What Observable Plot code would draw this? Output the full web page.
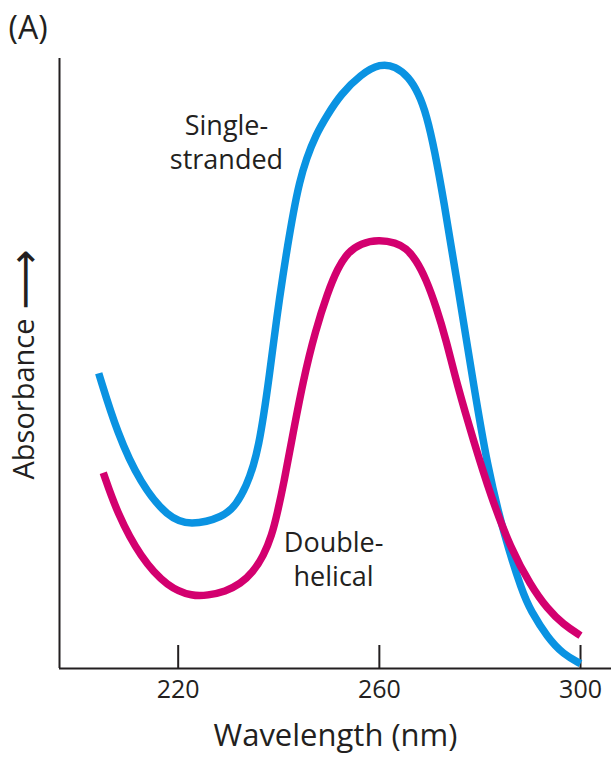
<!DOCTYPE html>
<html>
<head>
<meta charset="utf-8">
<script src="https://cdn.jsdelivr.net/npm/d3@7"></script>
<script src="https://cdn.jsdelivr.net/npm/@observablehq/plot@0.6"></script>
<style>
  html, body { margin: 0; padding: 0; background: #ffffff; }
</style>
</head>
<body>
<div id="chart"></div>
<script>
// ---- Data ----
const seriesNames = ["Single-stranded", "Double-helical"];
const seriesColors = ["#0a93e2", "#d3006f"];

const ssWavelength = [204.2, 207.9, 212.5, 217.9, 222.4, 229.0, 231.6, 233.6, 235.0, 236.0, 237.0, 238.0, 239.7, 240.9, 241.7, 242.9, 244.1, 245.5, 247.3, 249.7, 252.3, 256.3, 260.2, 263.2, 265.8, 267.8, 269.4, 271.0, 272.8, 275.1, 278.7, 281.5, 284.7, 288.5, 290.1, 293.4, 296.6, 300.0];
const ssAbsorbance = [0.484, 0.385, 0.303, 0.248, 0.234, 0.248, 0.269, 0.300, 0.333, 0.366, 0.415, 0.472, 0.582, 0.648, 0.690, 0.748, 0.797, 0.836, 0.874, 0.908, 0.941, 0.974, 0.992, 0.987, 0.970, 0.943, 0.907, 0.849, 0.767, 0.652, 0.467, 0.330, 0.221, 0.123, 0.095, 0.051, 0.023, 0.008];

const dhWavelength = [205.1, 207.9, 212.5, 217.9, 223.0, 225.8, 229.4, 232.4, 234.8, 237.0, 238.6, 239.7, 241.1, 242.3, 244.9, 247.3, 249.7, 251.7, 253.7, 256.3, 259.9, 263.3, 265.3, 267.3, 269.3, 271.3, 273.3, 275.5, 278.7, 282.1, 286.1, 290.1, 293.4, 296.6, 300.0];
const dhAbsorbance = [0.321, 0.254, 0.182, 0.133, 0.118, 0.120, 0.126, 0.139, 0.157, 0.185, 0.218, 0.254, 0.308, 0.362, 0.475, 0.554, 0.616, 0.656, 0.682, 0.697, 0.703, 0.698, 0.689, 0.670, 0.638, 0.593, 0.538, 0.464, 0.374, 0.284, 0.197, 0.136, 0.098, 0.072, 0.054];

const xTicks = [220, 260, 300];
const xDomain = [196.4, 306.16];
const yDomain = [0, 1];

const curveLabels = ["Single-\nstranded", "Double-\nhelical"];
const curveLabelX = [229.6, 250.9];
const curveLabelY = [0.864, 0.181];

const panelLabel = "(A)";
const xLabel = "Wavelength (nm)";
const yLabel = "Absorbance";
const yArrow = "\u27F6";

// ---- Build tables ----
const rows = [
  ...ssWavelength.map((w, i) => ({series: seriesNames[0], wavelength: w, absorbance: ssAbsorbance[i]})),
  ...dhWavelength.map((w, i) => ({series: seriesNames[1], wavelength: w, absorbance: dhAbsorbance[i]}))
];
const labelRows = curveLabels.map((t, i) => ({text: t, x: curveLabelX[i], y: curveLabelY[i]}));

const ink = "#231f20";
const font = "'Open Sans', 'Noto Sans', sans-serif";

const chart = Plot.plot({
  width: 611,
  height: 758,
  marginTop: 58,
  marginBottom: 90,
  marginLeft: 59,
  marginRight: 0,
  style: {fontFamily: font, fontSize: "25px", color: ink, background: "#ffffff", overflow: "visible"},
  x: {domain: xDomain},
  y: {domain: yDomain, axis: null},
  color: {domain: seriesNames, range: seriesColors},
  marks: [
    Plot.axisX({ticks: xTicks, tickSize: 0, tickPadding: 12, tickFormat: d => String(d), label: null, fontSize: 25, fill: ink}),
    Plot.ruleX(xTicks, {insetTop: 587, stroke: ink, strokeWidth: 2}),
    Plot.ruleX([xDomain[0]], {stroke: ink, strokeWidth: 2}),
    Plot.ruleY([yDomain[0]], {stroke: ink, strokeWidth: 2}),
    Plot.line(rows, {
      x: "wavelength", y: "absorbance", z: "series", stroke: "series",
      strokeWidth: 7.5, curve: "basis", strokeLinecap: "butt", strokeLinejoin: "round"
    }),
    Plot.text(labelRows, {x: "x", y: "y", text: "text", fontSize: 27, lineHeight: 1.24, lineAnchor: "middle", textAnchor: "middle", fill: ink}),
    Plot.text([panelLabel], {frameAnchor: "top-left", textAnchor: "start", lineAnchor: "middle", dx: -51, dy: -30, fontSize: 32, fill: ink}),
    Plot.text([xLabel], {frameAnchor: "bottom", textAnchor: "middle", lineAnchor: "middle", dy: 68, fontSize: 31, fill: ink}),
    Plot.text([yLabel], {frameAnchor: "left", rotate: -90, textAnchor: "middle", lineAnchor: "middle", dx: -35, dy: 35.5, fontSize: 29, fill: ink}),
    Plot.text([yArrow], {frameAnchor: "left", rotate: -90, textAnchor: "middle", lineAnchor: "middle", dx: -34, dy: -84, fontSize: 42, fontFamily: "'DejaVu Sans', sans-serif", fill: ink})
  ]
});

document.getElementById("chart").appendChild(chart);
</script>
</body>
</html>
